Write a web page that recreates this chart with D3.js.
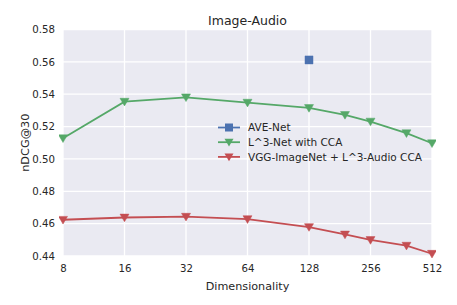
<!DOCTYPE html>
<html>
<head>
<meta charset="utf-8">
<script src="https://cdn.jsdelivr.net/npm/d3@7"></script>
<style>
body { margin: 0; background: #fff; }
text { font-family: "DejaVu Sans", sans-serif; fill: #262626; }
</style>
</head>
<body>
<div id="chart"></div>
<script>
// Data
var dims = [8, 16, 32, 64, 128, 192, 256, 384, 512];
var l3Cca = [0.5128, 0.5354, 0.5381, 0.5348, 0.5315, 0.5272, 0.5231, 0.5159, 0.5097];
var vggCca = [0.4624, 0.4638, 0.4643, 0.4628, 0.4579, 0.4533, 0.4499, 0.4464, 0.4414];
var aveDim = [128];
var aveNet = [0.5612];
var xTicks = [8, 16, 32, 64, 128, 256, 512];
var yTicks = [0.44, 0.46, 0.48, 0.50, 0.52, 0.54, 0.56, 0.58];

var svgWidth = 457, svgHeight = 305;
var margin = { top: 29.5, right: 25, bottom: 49, left: 63 };
var width = svgWidth - margin.left - margin.right;
var height = svgHeight - margin.top - margin.bottom;

var svg = d3.select("#chart").append("svg")
    .attr("width", svgWidth)
    .attr("height", svgHeight);

var g = svg.append("g")
    .attr("transform", "translate(" + margin.left + "," + margin.top + ")");

var x = d3.scaleLog().base(2).domain([8, 512]).range([0, width]);
var y = d3.scaleLinear().domain([0.44, 0.58]).range([height, 0]);

// background + grid
g.append("rect").attr("width", width).attr("height", height).attr("fill", "#EAEAF2");

g.selectAll(".vgrid").data(xTicks).enter().append("line")
    .attr("x1", d => x(d)).attr("x2", d => x(d))
    .attr("y1", 0).attr("y2", height)
    .attr("stroke", "#fff").attr("stroke-width", 1.3);
g.selectAll(".hgrid").data(yTicks).enter().append("line")
    .attr("y1", d => y(d)).attr("y2", d => y(d))
    .attr("x1", 0).attr("x2", width)
    .attr("stroke", "#fff").attr("stroke-width", 1.3);

// axes
var xAxis = d3.axisBottom(x).tickValues(xTicks).tickFormat(d3.format("d")).tickSize(0).tickPadding(9);
var yAxis = d3.axisLeft(y).tickValues(yTicks).tickFormat(d3.format(".2f")).tickSize(0).tickPadding(8);

g.append("g").attr("transform", "translate(0," + height + ")").call(xAxis)
    .call(a => a.select(".domain").remove())
    .selectAll("text").attr("font-size", 10.2).style("fill", "#262626");
g.append("g").call(yAxis)
    .call(a => a.select(".domain").remove())
    .selectAll("text").attr("font-size", 10.2).style("fill", "#262626");

// series
var series = [
    { name: "AVE-Net", xs: aveDim, ys: aveNet, color: "#4C72B0", marker: "square" },
    { name: "L^3-Net with CCA", xs: dims, ys: l3Cca, color: "#55A868", marker: "tri" },
    { name: "VGG-ImageNet + L^3-Audio CCA", xs: dims, ys: vggCca, color: "#C44E52", marker: "tri" }
];

g.append("clipPath").attr("id", "plotclip").append("rect")
    .attr("x", -4).attr("y", -4).attr("width", width + 8).attr("height", height + 8);

function markerPath(type, cx, cy) {
    if (type === "square") {
        var s = 4;
        return "M" + (cx - s) + "," + (cy - s) + "h" + 2 * s + "v" + 2 * s + "h" + -2 * s + "Z";
    }
    var r = 4.5;
    return "M" + (cx - r) + "," + (cy - r * 0.75) + "L" + (cx + r) + "," + (cy - r * 0.75) +
        "L" + cx + "," + (cy + r * 0.95) + "Z";
}

var line = d3.line().x(d => x(d[0])).y(d => y(d[1]));

var plot = g.append("g").attr("clip-path", "url(#plotclip)");

series.forEach(function (s) {
    var pts = s.xs.map((v, i) => [v, s.ys[i]]);
    plot.append("path").datum(pts)
        .attr("d", line)
        .attr("fill", "none")
        .attr("stroke", s.color)
        .attr("stroke-width", 1.8);
    plot.selectAll(null).data(pts).enter().append("path")
        .attr("d", d => markerPath(s.marker, x(d[0]), y(d[1])))
        .attr("fill", s.color)
        .attr("stroke", s.color)
        .attr("stroke-width", 0.5);
});

// legend
var legend = svg.append("g").attr("transform", "translate(218,127.5)");
series.forEach(function (s, i) {
    var row = legend.append("g").attr("transform", "translate(0," + i * 14.7 + ")");
    row.append("line").attr("x1", 0).attr("x2", 22).attr("y1", 0).attr("y2", 0)
        .attr("stroke", s.color).attr("stroke-width", 1.8);
    row.append("path").attr("d", markerPath(s.marker, 11, 0)).attr("fill", s.color);
    row.append("text").attr("x", 30).attr("y", 3.8).attr("font-size", 10.5).text(s.name);
});

// titles
svg.append("text").attr("x", margin.left + width / 2).attr("y", 24.5)
    .attr("text-anchor", "middle").attr("font-size", 12.5).text("Image-Audio");
svg.append("text").attr("x", margin.left + width / 2).attr("y", 290)
    .attr("text-anchor", "middle").attr("font-size", 11.2).text("Dimensionality");
svg.append("text")
    .attr("transform", "translate(28.5," + (margin.top + height / 2) + ") rotate(-90)")
    .attr("text-anchor", "middle").attr("font-size", 11.3).text("nDCG@30");
</script>
</body>
</html>
